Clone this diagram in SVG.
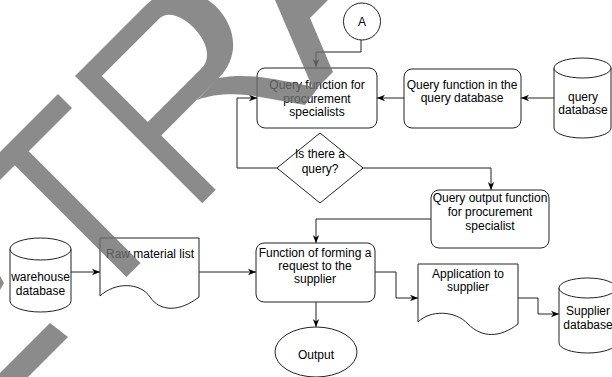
<svg xmlns="http://www.w3.org/2000/svg" width="612" height="377" viewBox="0 0 612 377">
<defs>
<marker id="arr" viewBox="0 0 10 10" refX="10" refY="5" markerWidth="8" markerHeight="8" orient="auto" markerUnits="userSpaceOnUse">
<path d="M0,1 L10,5 L0,9 L3,5 Z" fill="#000"/>
</marker>
<style>
.shape{fill:#fff;stroke:#222;stroke-width:1}
.t{font-family:"Liberation Sans",Arial,sans-serif;font-size:12px;fill:#000;text-anchor:middle}
.c{fill:none;stroke:#222;stroke-width:1;marker-end:url(#arr)}
.wm{fill:#6e6e6e}
</style>
</defs>
<rect width="612" height="377" fill="#fff"/>

<g id="connectors">
<path class="c" d="M361,40 V52 H316 V67"/>
<path class="c" d="M554,98 H521"/>
<path class="c" d="M404,98 H377"/>
<path class="c" d="M277,168 H237 V98 H257"/>
<path class="c" d="M362,168 H491 V190"/>
<path class="c" d="M431,219 H316 V243"/>
<path class="c" d="M71,272 H100"/>
<path class="c" d="M199,272 H256"/>
<path class="c" d="M316,302 V327"/>
<path class="c" d="M375,272 H396 V298 H418"/>
<path class="c" d="M518,298 H538 V314 H559"/>
</g>

<g id="nodeA">
<circle class="shape" cx="362" cy="21.5" r="18.5"/>
<text class="t" x="362" y="26">A</text>
</g>

<g id="procQuery">
<rect class="shape" x="257" y="68" width="120" height="60" rx="8"/>
<text class="t" x="317" y="89">Query function for</text>
<text class="t" x="317" y="102.5">procurement</text>
<text class="t" x="317" y="116">specialists</text>
</g>

<g id="dbQueryFunc">
<rect class="shape" x="404" y="69" width="117" height="59" rx="8"/>
<text class="t" x="462" y="89">Query function in the</text>
<text class="t" x="462" y="102">query database</text>
</g>

<g id="queryDb">
<path class="shape" d="M554,68 A28.5,10 0 0 1 611,68 V128 A28.5,10 0 0 1 554,128 Z"/>
<path class="shape" d="M554,68 A28.5,10 0 0 0 611,68"/>
<text class="t" x="583" y="101">query</text>
<text class="t" x="583" y="114">database</text>
</g>

<g id="decision">
<polygon class="shape" points="320,133 363,168 320,203 277,168"/>
<text class="t" x="320" y="158">Is there a</text>
<text class="t" x="320" y="173">query?</text>
</g>

<g id="queryOutput">
<rect class="shape" x="431" y="190" width="118" height="58" rx="8"/>
<text class="t" x="490" y="201.5">Query output function</text>
<text class="t" x="490" y="215.5">for procurement</text>
<text class="t" x="490" y="229.5">specialist</text>
</g>

<g id="formRequest">
<rect class="shape" x="256" y="243" width="119" height="59" rx="8"/>
<text class="t" x="315" y="257">Function of forming a</text>
<text class="t" x="315" y="270">request to the</text>
<text class="t" x="315" y="283">supplier</text>
</g>

<g id="warehouseDb">
<path class="shape" d="M10,249 A30.5,11 0 0 1 71,249 V301 A30.5,11 0 0 1 10,301 Z"/>
<path class="shape" d="M10,249 A30.5,11 0 0 0 71,249"/>
<text class="t" x="40.5" y="281">warehouse</text>
<text class="t" x="40.5" y="295">database</text>
</g>

<g id="rawList">
<path class="shape" d="M100,238 H199 V297 C180,312 160,312 150,297 C140,282 115,282 100,296 Z"/>
<text class="t" x="150" y="258">Raw material list</text>
</g>

<g id="output">
<ellipse class="shape" cx="316" cy="352" rx="41" ry="25"/>
<text class="t" x="316" y="359">Output</text>
</g>

<g id="application">
<path class="shape" d="M418,264 H518 V324 C500,338 482,338 468,324 C455,310 430,310 418,322 Z"/>
<text class="t" x="468" y="278">Application to</text>
<text class="t" x="468" y="291">supplier</text>
</g>

<g id="supplierDb">
<path class="shape" d="M559,288 A28.5,10 0 0 1 616,288 V343 A28.5,10 0 0 1 559,343 Z"/>
<path class="shape" d="M559,288 A28.5,10 0 0 0 616,288"/>
<text class="t" x="588" y="315">Supplier</text>
<text class="t" x="588" y="329">database</text>
</g>

<g id="watermark" opacity="0.8">
<polygon class="wm" points="58,94 72,108 -8,188 -22,174"/>
<polygon class="wm" points="21.8,144.2 140.6,263 126.4,277 7.7,158.3"/>
<polygon class="wm" points="0,276 4,283 0,290"/>
<polygon class="wm" points="50,323 68,337 28,377 -4,377"/>
<path class="wm" fill-rule="evenodd" transform="translate(75,76) rotate(-45)" d="M0,0 H100 C165,0 165,103 100,103 H19 V180 H0 Z M19,19 H100 C125,19 125,84 95,84 H19 Z"/>
<path class="wm" d="M197,100 C215,93 240,93 260,97 L305,105 L318,88 L295,83 C270,78 245,73 218,78 Z"/>
<polygon class="wm" points="275,0 328,0 310,18 333,72 314,91"/>
</g>
</svg>
